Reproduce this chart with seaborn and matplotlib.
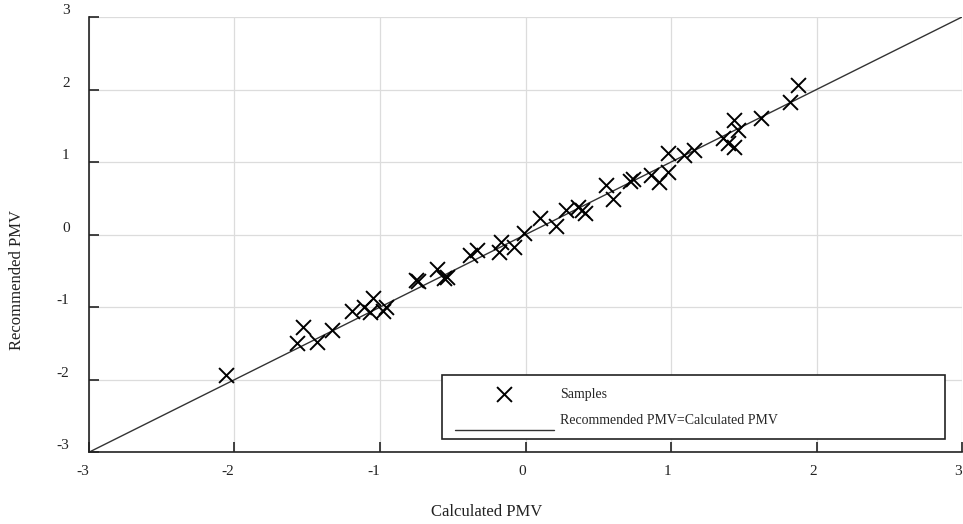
import numpy as np
import pandas as pd
import matplotlib
matplotlib.use("Agg")
import matplotlib.pyplot as plt
from matplotlib.legend_handler import HandlerLine2D
import seaborn as sns

calculated = [-2.06, -1.57, -1.53, -1.43, -1.33, -1.19, -1.11, -1.05, -1.07, -0.96,
              -0.98, -0.74, -0.75, -0.61, -0.56, -0.54, -0.38, -0.33, -0.17, -0.18,
              -0.08, -0.01, 0.10, 0.21, 0.28, 0.36, 0.39, 0.41, 0.55, 0.60,
              0.72, 0.74, 0.86, 0.92, 0.98, 0.98, 1.09, 1.16, 1.36, 1.39,
              1.43, 1.43, 1.46, 1.62, 1.82, 1.87]
recommended = [-1.94, -1.50, -1.28, -1.48, -1.32, -1.05, -1.00, -0.88, -1.07, -1.00,
               -1.06, -0.64, -0.62, -0.48, -0.60, -0.59, -0.28, -0.21, -0.10, -0.24,
               -0.17, 0.02, 0.23, 0.12, 0.34, 0.38, 0.34, 0.30, 0.68, 0.49,
               0.74, 0.76, 0.82, 0.72, 0.86, 1.12, 1.10, 1.17, 1.33, 1.26,
               1.21, 1.58, 1.44, 1.61, 1.83, 2.06]
ref_line = [-3, 3]
ticks = [-3, -2, -1, 0, 1, 2, 3]

df = pd.DataFrame({"calc": calculated, "rec": recommended})


class LoweredLine(HandlerLine2D):
    # the reference legend draws its line handle below the text baseline
    def create_artists(self, legend, orig_handle, xdescent, ydescent, width,
                       height, fontsize, trans):
        artists = super().create_artists(legend, orig_handle, xdescent, ydescent,
                                         width, height, fontsize, trans)
        for a in artists:
            a.set_ydata(np.asarray(a.get_ydata()) - 0.8 * fontsize)
        return artists


sns.set_theme(style="whitegrid")
plt.rcParams["font.family"] = ["Liberation Serif", "DejaVu Serif"]
plt.rcParams["axes.unicode_minus"] = False

fig = plt.figure(figsize=(9.63, 5.24), dpi=100)
ax = fig.add_axes([0.0924, 0.137, 0.9066, 0.8306])

sns.lineplot(x=ref_line, y=ref_line, color="#333333", linewidth=1.0, ax=ax,
             label="Recommended PMV=Calculated PMV", zorder=2)
sns.scatterplot(data=df, x="calc", y="rec", marker="x", s=115, color="black",
                linewidth=1.4, ax=ax, label="Samples", zorder=3)

ax.set_xlim(-3, 3)
ax.set_ylim(-3, 3)
ax.set_xticks(ticks)
ax.set_yticks(ticks)
ax.grid(True, color="#dcdcdc", linewidth=0.9)
ax.set_facecolor("white")
for side in ["top", "right"]:
    ax.spines[side].set_visible(False)
for side in ["left", "bottom"]:
    ax.spines[side].set_color("#222222")
    ax.spines[side].set_linewidth(1.2)

ax.tick_params(axis="both", direction="in", length=7, width=1.2, color="#222222",
               labelsize=11, labelcolor="#222222")
ax.tick_params(axis="x", bottom=True, pad=9)
ax.tick_params(axis="y", left=True, pad=14)
for lbl in ax.get_yticklabels():
    lbl.set_verticalalignment("bottom")
for lbl in ax.get_xticklabels():
    lbl.set_horizontalalignment("right")

ax.set_xlabel("Calculated PMV", fontsize=12, color="#222222")
ax.set_ylabel("Recommended PMV", fontsize=12, color="#222222")
ax.xaxis.set_label_coords(0.455, -0.119)
ax.yaxis.set_label_coords(-0.073, 0.395)

handles, labels = ax.get_legend_handles_labels()
order = [labels.index("Samples"), labels.index("Recommended PMV=Calculated PMV")]
leg = ax.legend([handles[i] for i in order], [labels[i] for i in order],
                bbox_to_anchor=(0.4048, 0.0299, 0.5757, 0.1494), loc="lower left",
                mode="expand", borderaxespad=0, fontsize=10, handlelength=7.1,
                handletextpad=0.5, borderpad=0.9, labelspacing=0.95,
                frameon=True, fancybox=False, framealpha=1,
                handler_map={type(handles[order[1]]): LoweredLine()})
leg.get_frame().set_edgecolor("#222222")
leg.get_frame().set_linewidth(1.2)

fig.savefig("out.png", dpi=100)
